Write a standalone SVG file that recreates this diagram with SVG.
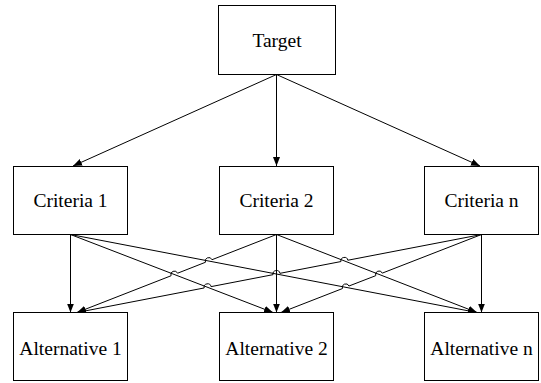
<svg xmlns="http://www.w3.org/2000/svg" width="541" height="383" viewBox="0 0 541 383">
<style>
.box{fill:#fff;stroke:#000;stroke-width:1}
.lbl{font-family:"Liberation Serif","Times New Roman",serif;font-size:19.5px;fill:#000;text-anchor:middle}
.c{fill:none;stroke:#000;stroke-width:1;marker-end:url(#ah)}
</style>
<defs>
<marker id="ah" markerUnits="userSpaceOnUse" markerWidth="10" markerHeight="8" refX="9" refY="3.5" orient="auto">
<path d="M0,0 L9,3.5 L0,7 z" fill="#000"/>
</marker>
</defs>
<rect width="541" height="383" fill="#fff"/>
<g id="connectors">
<path class="c" d="M276.5,74.5 L73,166"/>
<path class="c" d="M276.5,74.5 L276.5,166"/>
<path class="c" d="M276.5,74.5 L480,166"/>
<path class="c" d="M70.5,234.5 L70.5,312.5"/>
<path class="c" d="M276.5,234.5 L276.5,312.5"/>
<path class="c" d="M481.5,234.5 L481.5,312.5"/>
<path class="c" d="M70.5,234.5 L273,312.5"/>
<path class="c" d="M70.5,234.5 L477,312.5"/>
<path class="c" d="M276.5,234.5 L477,312.5"/>
<path class="c" d="M276.5,234.5 L211.96,259.73 A3.5,3.5 0 0 0 205.44,262.27 L177.56,273.23 A3.5,3.5 0 0 0 171.04,275.77 L77,312.5"/>
<path class="c" d="M481.5,234.5 L347.84,260.24 A3.5,3.5 0 0 0 340.96,261.56 L279.94,273.34 A3.5,3.5 0 0 0 273.06,274.66 L211.04,286.64 A3.5,3.5 0 0 0 204.16,287.96 L77,312.5"/>
<path class="c" d="M481.5,234.5 L382.26,273.13 A3.5,3.5 0 0 0 375.74,275.67 L348.96,286.03 A3.5,3.5 0 0 0 342.44,288.57 L281,312.5"/>
</g>
<g id="target"><rect class="box" x="218.5" y="5.5" width="117" height="69"/><text class="lbl" x="277" y="46.5">Target</text></g>
<g id="criteria1"><rect class="box" x="13.5" y="166.5" width="114" height="68"/><text class="lbl" x="70.5" y="207">Criteria 1</text></g>
<g id="criteria2"><rect class="box" x="219.5" y="166.5" width="114" height="68"/><text class="lbl" x="276.5" y="207">Criteria 2</text></g>
<g id="criterian"><rect class="box" x="424.5" y="166.5" width="114" height="68"/><text class="lbl" x="481.5" y="207">Criteria n</text></g>
<g id="alternative1"><rect class="box" x="13.5" y="312.5" width="114" height="68"/><text class="lbl" x="70.5" y="355">Alternative 1</text></g>
<g id="alternative2"><rect class="box" x="219.5" y="312.5" width="114" height="68"/><text class="lbl" x="276.5" y="355">Alternative 2</text></g>
<g id="alternativen"><rect class="box" x="424.5" y="312.5" width="114" height="68"/><text class="lbl" x="481.5" y="355">Alternative n</text></g>
</svg>
